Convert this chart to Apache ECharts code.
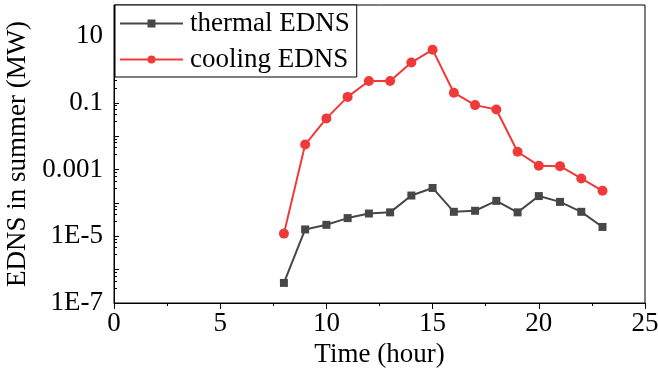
<!DOCTYPE html>
<html>
<head>
<meta charset="utf-8">
<script src="https://cdn.jsdelivr.net/npm/echarts@6/dist/echarts.min.js"></script>
<style>
html,body{margin:0;padding:0;background:#fff;}
#chart{width:658px;height:370px;}
</style>
</head>
<body>
<div id="chart"></div>
<script>
const hours = [8, 9, 10, 11, 12, 13, 14, 15, 16, 17, 18, 19, 20, 21, 22, 23];
const thermalEDNS = [4e-7, 1.6e-5, 2.2e-5, 3.5e-5, 4.8e-5, 5.2e-5, 1.66e-4, 2.8e-4, 5.4e-5, 5.8e-5, 1.15e-4, 5.2e-5, 1.6e-4, 1.07e-4, 5.4e-5, 1.9e-5];
const coolingEDNS = [1.2e-5, 5.6e-3, 0.034, 0.15, 0.45, 0.45, 1.6, 3.9, 0.2, 0.085, 0.063, 3.4e-3, 1.3e-3, 1.26e-3, 5.4e-4, 2.3e-4];
const yTickLabels = {'-7': '1E-7', '-5': '1E-5', '-3': '0.001', '-1': '0.1', '1': '10'};
const xTicks = [0, 5, 10, 15, 20, 25];

const font = '"Liberation Serif", "Times New Roman", serif';
const chart = echarts.init(document.getElementById('chart'));
chart.setOption({
  animation: false,
  backgroundColor: '#fff',
  grid: {left: 114, right: 13, top: 5, bottom: 67, show: true, borderColor: '#000', borderWidth: 1, containLabel: false, outerBoundsMode: 'none'},
  legend: {
    left: 115, top: 5, orient: 'vertical',
    backgroundColor: '#fff', borderColor: '#000', borderWidth: 1,
    padding: [5, 7, 4, 4], itemGap: 9, itemWidth: 63, itemHeight: 10,
    textStyle: {fontFamily: font, fontSize: 27, color: '#000', padding: [0, 0, 0, 2]},
    data: ['thermal EDNS', 'cooling EDNS']
  },
  xAxis: {
    type: 'value', min: xTicks[0], max: xTicks[xTicks.length - 1], interval: 5,
    name: 'Time (hour)', nameLocation: 'middle', nameGap: 33,
    nameTextStyle: {fontFamily: font, fontSize: 27, color: '#000'},
    axisLine: {lineStyle: {color: '#000', width: 1}},
    axisTick: {show: true, inside: false, length: 6, lineStyle: {color: '#000'}},
    minorTick: {show: true, splitNumber: 2, length: 3, lineStyle: {color: '#000'}},
    axisLabel: {fontFamily: font, fontSize: 27, color: '#000', margin: 7},
    splitLine: {show: false}
  },
  yAxis: {
    type: 'log', logBase: 10, min: 1e-7, max: 85, interval: 1,
    name: 'EDNS in summer (MW)', nameLocation: 'middle', nameGap: 68,
    nameTextStyle: {fontFamily: font, fontSize: 27, color: '#000'},
    axisLine: {show: true, lineStyle: {color: '#000', width: 1}},
    axisTick: {show: true, inside: true, length: 5, lineStyle: {color: '#000'}},
    minorTick: {show: true, splitNumber: 5, length: 3, lineStyle: {color: '#000'}},
    axisLabel: {
      fontFamily: font, fontSize: 27, color: '#000', margin: 11,
      formatter: function (v) {
        const e = Math.round(Math.log10(v));
        return yTickLabels[String(e)] || '';
      }
    },
    splitLine: {show: false}
  },
  series: [
    {
      name: 'thermal EDNS', type: 'line',
      data: hours.map((h, i) => [h, thermalEDNS[i]]),
      symbol: 'rect', symbolSize: 8,
      itemStyle: {color: '#474747'},
      lineStyle: {color: '#474747', width: 2}
    },
    {
      name: 'cooling EDNS', type: 'line',
      data: hours.map((h, i) => [h, coolingEDNS[i]]),
      symbol: 'circle', symbolSize: 10,
      itemStyle: {color: '#f03a3a'},
      lineStyle: {color: '#f03a3a', width: 2}
    }
  ]
});
</script>
</body>
</html>
